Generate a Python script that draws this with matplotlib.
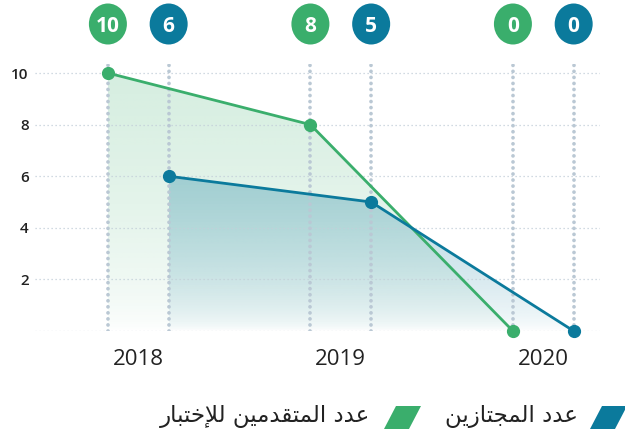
import numpy as np
import matplotlib
matplotlib.use("Agg")
import matplotlib.pyplot as plt
from matplotlib.patches import Ellipse, Polygon
from matplotlib import transforms as mtrans
from matplotlib.colors import to_rgb

# ---- data ----
years = ["2018", "2019", "2020"]
applicants = [10, 8, 0]   # عدد المتقدمين للإختبار
passed = [6, 5, 0]        # عدد المجتازين
yticks = [2, 4, 6, 8, 10]
label_applicants = "عدد المتقدمين للإختبار"
label_passed = "عدد المجتازين"

GREEN = "#3aae6c"
BLUE = "#0b7a9c"
GRID = "#c3cfd9"
VGRID = "#bac8d4"
TEXT = "#222222"

plt.rcParams["font.family"] = ["Open Sans", "DejaVu Sans"]

# ---- minimal Arabic shaping (contextual forms + lam-alef, visual order) ----
AR_FORMS = {
    "ا": ("\uFE8D", "\uFE8E"), "إ": ("\uFE87", "\uFE88"),
    "أ": ("\uFE83", "\uFE84"), "آ": ("\uFE81", "\uFE82"),
    "د": ("\uFEA9", "\uFEAA"), "ذ": ("\uFEAB", "\uFEAC"),
    "ر": ("\uFEAD", "\uFEAE"), "ز": ("\uFEAF", "\uFEB0"),
    "و": ("\uFEED", "\uFEEE"),
    "ب": ("\uFE8F", "\uFE90", "\uFE91", "\uFE92"),
    "ت": ("\uFE95", "\uFE96", "\uFE97", "\uFE98"),
    "ج": ("\uFE9D", "\uFE9E", "\uFE9F", "\uFEA0"),
    "خ": ("\uFEA5", "\uFEA6", "\uFEA7", "\uFEA8"),
    "ع": ("\uFEC9", "\uFECA", "\uFECB", "\uFECC"),
    "ق": ("\uFED5", "\uFED6", "\uFED7", "\uFED8"),
    "ل": ("\uFEDD", "\uFEDE", "\uFEDF", "\uFEE0"),
    "م": ("\uFEE1", "\uFEE2", "\uFEE3", "\uFEE4"),
    "ن": ("\uFEE5", "\uFEE6", "\uFEE7", "\uFEE8"),
    "ي": ("\uFEF1", "\uFEF2", "\uFEF3", "\uFEF4"),
}
LAM_ALEF = {"ا": ("\uFEFB", "\uFEFC"), "إ": ("\uFEF9", "\uFEFA"),
            "أ": ("\uFEF7", "\uFEF8"), "آ": ("\uFEF5", "\uFEF6")}


def shape_arabic(text):
    units = []
    i = 0
    while i < len(text):
        c = text[i]
        if c == "ل" and i + 1 < len(text) and text[i + 1] in LAM_ALEF:
            units.append(LAM_ALEF[text[i + 1]])
            i += 2
        else:
            units.append(AR_FORMS.get(c, c))
            i += 1
    out = []
    for k, u in enumerate(units):
        if isinstance(u, str):
            out.append(u)
            continue
        prev = units[k - 1] if k > 0 else None
        nxt = units[k + 1] if k + 1 < len(units) else None
        joins_prev = isinstance(prev, tuple) and len(prev) == 4
        joins_next = len(u) == 4 and isinstance(nxt, tuple)
        if joins_prev and joins_next:
            out.append(u[3])
        elif joins_prev:
            out.append(u[1])
        elif joins_next:
            out.append(u[2])
        else:
            out.append(u[0])
    return "".join(reversed(out))


def gradient_fill(ax, xs, ys, color, alpha_top, zorder):
    ytop = max(ys)
    verts = [(xs[0], 0)] + list(zip(xs, ys)) + [(xs[-1], 0)]
    poly = Polygon(verts, closed=True, facecolor="none", edgecolor="none")
    ax.add_patch(poly)
    n = 256
    img = np.zeros((n, 1, 4))
    img[:, :, :3] = to_rgb(color)
    img[:, 0, 3] = alpha_top * np.linspace(0, 1, n) ** 0.6
    im = ax.imshow(img, extent=[xs[0], xs[-1], 0, ytop], origin="lower",
                   aspect="auto", zorder=zorder, interpolation="bilinear")
    im.set_clip_path(poly)


# ---- figure ----
W, H = 625, 434
fig = plt.figure(figsize=(W / 100, H / 100), dpi=100)
ax = fig.add_axes([35 / W, (H - 331) / H, 565 / W, 267 / H])

x = np.arange(len(years))
offset = 0.15
xg = x - offset
xb = x + offset

gradient_fill(ax, xg, applicants, GREEN, 0.21, 1)
gradient_fill(ax, xb, passed, BLUE, 0.30, 1.5)

# horizontal dotted grid
for yv in [0] + yticks:
    ax.axhline(yv, color=GRID, lw=0.9, linestyle=(0, (1, 2.2)), zorder=2)

# vertical dotted guides at every point
for xv in np.concatenate([xg, xb]):
    ax.axvline(xv, color=VGRID, lw=2.7, linestyle=(0, (0.01, 1.6)),
               dash_capstyle="round", zorder=2.5)

ax.plot(xg, applicants, color=GREEN, lw=2, marker="o", ms=8.5,
        clip_on=False, zorder=4)
ax.plot(xb, passed, color=BLUE, lw=2, marker="o", ms=8.5,
        clip_on=False, zorder=4)

ax.set_xlim(-0.51, 2.28)
ax.set_ylim(0, 10.35)
for s in ax.spines.values():
    s.set_visible(False)
ax.set_xticks(x, years)
ax.set_yticks(yticks, [str(v) for v in yticks])
ax.tick_params(axis="x", length=0, pad=13, labelsize=16, labelcolor=TEXT)
ax.tick_params(axis="y", length=0, pad=4.5, labelsize=11, labelcolor=TEXT)
for lab in ax.get_yticklabels():
    lab.set_fontweight("semibold")

# value badges above each point
trans = mtrans.blended_transform_factory(ax.transData, fig.transFigure)
badge_y = (H - 24) / H
px_per_unit = 565 / (2.28 + 0.51)
for xs, vals, col in [(xg, applicants, GREEN), (xb, passed, BLUE)]:
    for xv, v in zip(xs, vals):
        ax.add_patch(Ellipse((xv, badge_y), 38 / px_per_unit, 41 / H,
                             transform=trans, facecolor=col, edgecolor="none",
                             clip_on=False, zorder=5))
        ax.text(xv, badge_y - 0.006, str(v), transform=trans, ha="center",
                va="center", color="white", fontsize=15, fontweight="bold",
                zorder=6, clip_on=False)

# legend (right-to-left)
def swatch(x0, color):
    pts = [(x0, 429), (x0 + 25, 429), (x0 + 37, 406), (x0 + 12, 406)]
    fig.patches.append(Polygon([(px / W, (H - py) / H) for px, py in pts],
                               closed=True, transform=fig.transFigure,
                               facecolor=color, edgecolor="none"))

swatch(590, BLUE)
swatch(384, GREEN)
fig.text(578 / W, (H - 416) / H, shape_arabic(label_passed), ha="right",
         va="center", fontsize=16.5, color=TEXT, family=["DejaVu Sans"])
fig.text(370 / W, (H - 416) / H, shape_arabic(label_applicants), ha="right",
         va="center", fontsize=16.5, color=TEXT, family=["DejaVu Sans"])

fig.savefig("out.png", dpi=100)
